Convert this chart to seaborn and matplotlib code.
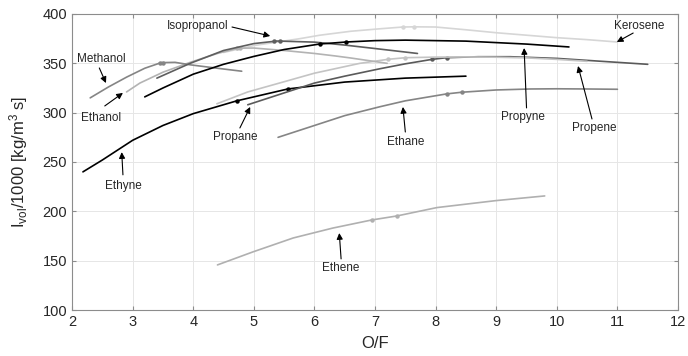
import numpy as np
import pandas as pd
import seaborn as sns
import matplotlib
matplotlib.use('Agg')
import matplotlib.pyplot as plt

# Values: O/F and Ivol/1000 for each propellant
methanol_of = [2.3, 2.6, 2.9, 3.2, 3.47, 3.7, 3.95, 4.4, 4.8]
methanol_iv = [315, 326, 336, 345, 350.7, 351, 348.5, 345, 342]
methanol_pts = ([3.45, 3.5], [350.6, 350.8])

ethanol_of = [2.9, 3.12, 3.5, 3.95, 4.4, 4.74, 5.0, 5.5, 6.0, 6.34, 6.6, 7.2]
ethanol_iv = [321, 330, 341, 351, 360, 365.3, 365.5, 363, 360, 357.5, 355.4, 350]
ethanol_pts = ([4.72, 4.77], [365.2, 365.4])

isoprop_of = [3.4, 3.95, 4.5, 5.0, 5.38, 6.0, 6.5, 7.0, 7.7]
isoprop_iv = [335, 350, 363, 370, 372.6, 371.5, 368.5, 365, 360]
isoprop_pts = ([5.33, 5.43], [372.6, 372.7])

propyne_of = [3.2, 3.5, 4.0, 4.5, 5.0, 5.5, 6.09, 6.52, 7.0, 7.5, 8.5, 9.5, 10.2]
propyne_iv = [316, 325, 339, 349, 357, 364, 369.6, 371.6, 373, 373.5, 372.5, 369.5, 366.6]
propyne_pts = ([6.09, 6.52], [369.6, 371.6])

kerosene_of = [4.5, 5.0, 5.76, 6.09, 6.6, 7.08, 7.46, 7.64, 8.0, 8.5, 9.0, 9.5, 10.0, 10.5, 11.0]
kerosene_iv = [361, 368, 375, 378.5, 382.5, 385, 386.8, 387, 386.8, 384, 381, 378.5, 376, 374, 371.6]
kerosene_pts = ([7.46, 7.64], [386.8, 387])

propene_of = [4.39, 4.9, 5.48, 6.0, 6.75, 7.22, 7.5, 8.0, 8.5, 9.0, 9.5, 10.0, 10.5]
propene_iv = [309, 321, 331, 340, 350, 354.1, 355.7, 356.3, 356.5, 356.2, 355.5, 354, 352]
propene_pts = ([7.22, 7.5], [354.1, 355.7])

propane_of = [4.9, 5.5, 6.0, 6.5, 7.08, 7.5, 7.94, 8.18, 8.7, 9.23, 10.0, 10.5, 11.0, 11.5]
propane_iv = [308, 320, 330, 337, 344.5, 349.5, 354, 355.7, 356.7, 356.7, 355, 353, 351, 349]
propane_pts = ([7.94, 8.18], [354, 355.7])

ethyne_of = [2.18, 2.5, 3.0, 3.5, 4.0, 4.72, 5.56, 6.5, 7.5, 8.5]
ethyne_iv = [240, 252, 272, 287, 299, 312, 324, 331, 335, 337]
ethyne_pts = ([4.72, 5.56], [312, 324])

ethane_of = [5.4, 6.0, 6.5, 7.08, 7.5, 8.18, 8.43, 9.0, 9.56, 10.0, 10.5, 11.0]
ethane_iv = [275, 287, 297, 306, 312, 319, 320.7, 323, 324, 324.2, 324, 323.7]
ethane_pts = ([8.18, 8.43], [319, 320.7])

ethene_of = [4.4, 4.99, 5.65, 6.3, 6.95, 7.36, 8.02, 9.0, 9.8]
ethene_iv = [145.7, 159, 173, 183, 191.3, 195.3, 203.8, 210.9, 215.6]
ethene_pts = ([6.95, 7.36], [191.3, 195.3])

curves = [
    ('Ethene', ethene_of, ethene_iv, ethene_pts, '#b0b0b0'),
    ('Ethane', ethane_of, ethane_iv, ethane_pts, '#858585'),
    ('Ethyne', ethyne_of, ethyne_iv, ethyne_pts, '#000000'),
    ('Propane', propane_of, propane_iv, propane_pts, '#5a5a5a'),
    ('Propene', propene_of, propene_iv, propene_pts, '#c4c4c4'),
    ('Kerosene', kerosene_of, kerosene_iv, kerosene_pts, '#d6d6d6'),
    ('Ethanol', ethanol_of, ethanol_iv, ethanol_pts, '#b3b3b3'),
    ('Methanol', methanol_of, methanol_iv, methanol_pts, '#858585'),
    ('Isopropanol', isoprop_of, isoprop_iv, isoprop_pts, '#5e5e5e'),
    ('Propyne', propyne_of, propyne_iv, propyne_pts, '#000000'),
]

# label text position, arrow tail, arrow head
labels = [
    ('Methanol', (2.49, 354.4), (2.45, 345.3), (2.56, 330)),
    ('Ethanol', (2.48, 294.6), (2.54, 306.8), (2.84, 320)),
    ('Isopropanol', (4.07, 387.8), (4.64, 386.8), (5.27, 377.7)),
    ('Propane', (4.7, 275), (4.77, 284.5), (4.94, 305.8)),
    ('Ethyne', (2.84, 225.7), (2.84, 237), (2.82, 260)),
    ('Ethane', (7.5, 270), (7.5, 280.4), (7.46, 305.8)),
    ('Propyne', (9.44, 295.6), (9.5, 304.8), (9.46, 365.5)),
    ('Propene', (10.61, 284.5), (10.58, 293.6), (10.35, 347.3)),
    ('Kerosene', (11.36, 387.8), (11.26, 380.7), (10.99, 371.6)),
    ('Ethene', (6.44, 142.6), (6.44, 151.8), (6.41, 178)),
]

sns.set_style('white')
plt.rcParams['font.family'] = ['Liberation Sans', 'DejaVu Sans']
plt.rcParams['mathtext.fontset'] = 'custom'
plt.rcParams['mathtext.rm'] = 'Liberation Sans'
plt.rcParams['mathtext.it'] = 'Liberation Sans:italic'

fig = plt.figure(figsize=(6.88, 3.56), dpi=100)
ax = fig.add_axes([0.1047, 0.1292, 0.8808, 0.8315])

for name, of, iv, pts, col in curves:
    df = pd.DataFrame({'O/F': of, 'Ivol': iv})
    sns.lineplot(data=df, x='O/F', y='Ivol', ax=ax, color=col, lw=1.2, sort=False)
    ax.plot(pts[0], pts[1], 'o', color=col, ms=3.2, mew=0)

for name, txt, tail, head in labels:
    ax.annotate('', xy=head, xytext=tail,
                arrowprops=dict(arrowstyle='-|>', color='k', lw=0.8,
                                mutation_scale=9, shrinkA=0, shrinkB=0))
    ax.text(txt[0], txt[1], name, ha='center', va='center', fontsize=8.5)

ax.set_xlim(2, 12)
ax.set_ylim(100, 400)
ax.set_xticks(np.arange(2, 13, 1))
ax.set_yticks(np.arange(100, 401, 50))
ax.grid(True, color='#e6e6e6', lw=0.7)
ax.set_axisbelow(True)
for sp in ax.spines.values():
    sp.set_color('#8c8c8c')
    sp.set_linewidth(0.8)
ax.tick_params(direction='in', length=3, color='#8c8c8c', labelsize=10.5,
               top=True, right=True, bottom=True, left=True,
               labeltop=False, labelright=False)
ax.set_xlabel('O/F', fontsize=12, labelpad=5)
ax.set_ylabel(r'I$_{\mathrm{vol}}$/1000 [kg/m$^3$ s]', fontsize=12, labelpad=9)

fig.savefig('out.png', dpi=100)
